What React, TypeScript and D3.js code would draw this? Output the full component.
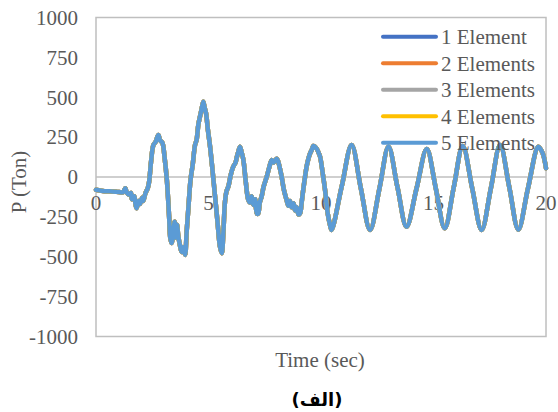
import React from "react";
import * as d3 from "d3";

const timeSec: number[] = [
  0, 0.3, 0.6, 0.9, 1.2, 1.3, 1.36, 1.45, 1.55, 1.6, 1.7, 1.75, 1.8, 1.9, 1.95, 2.05, 2.1, 2.2, 2.3, 2.36, 2.45,
  2.55, 2.65, 2.77, 2.85, 2.95, 3.05, 3.15, 3.25, 3.3, 3.36, 3.45, 3.5, 3.55, 3.6, 3.66, 3.72, 3.8, 3.88, 3.96,
  4.03, 4.1, 4.2, 4.3, 4.4, 4.47, 4.55, 4.62, 4.7, 4.77, 4.82, 4.89, 4.97, 5.07, 5.18, 5.29, 5.4, 5.51, 5.59,
  5.66, 5.73, 5.8, 5.88, 6.0, 6.1, 6.2, 6.25, 6.33, 6.4, 6.48, 6.55, 6.65, 6.77, 6.85, 6.92, 6.99, 7.07, 7.15,
  7.21, 7.28, 7.36, 7.45, 7.59, 7.7, 7.81, 7.88, 7.96, 8.03, 8.1, 8.18, 8.25, 8.35, 8.47, 8.55, 8.62, 8.7, 8.78,
  8.85, 8.92, 9.0, 9.07, 9.14, 9.21, 9.3, 9.36, 9.45, 9.52, 9.59, 9.66, 9.73, 9.82, 9.9, 9.96, 10.07, 10.18,
  10.3, 10.4, 10.47, 10.92, 11.36, 11.77, 12.18, 12.6, 13.0, 13.4, 13.8, 14.25, 14.7, 15.1, 15.5, 15.9, 16.3,
  16.72, 17.14, 17.55, 17.96, 18.37, 18.77, 19.2, 19.66, 19.85, 20.0,
];

const loadTon: number[] = [
  -80, -88, -90, -92, -95, -70, -95, -110, -100, -140, -120, -165, -196, -150, -170, -130, -150, -100, -70, -30, 100,
  200, 220, 263, 230, 215, 120, -20, -250, -380, -414, -330, -280, -380, -300, -374, -420, -470, -440, -489,
  -340, -207, -20, 80, 200, 232, 330, 378, 430, 472, 440, 400, 300, 190, 40, -120, -280, -437, -478,
  -350, -160, -90, -61, 20, 65, 90, 120, 160, 190, 150, 107, -20, -144, -160, -120, -175, -140, -230,
  -228, -160, -123, -60, 2, 60, 107, 90, 100, 115, 96, 50, 2, -80, -144, -180, -150, -190, -165,
  -210, -190, -235, -228, -160, -81, 10, 65, 120, 150, 170, 195, 190, 175, 150, 127, 30, -81,
  -230, -300, -332, -60, 200, -70, -332, -70, 190, -65, -312, -70, 175, -70, -322, -65, 195,
  -70, -332, -70, 200, -65, -330, -70, 190, 150, 55,
];

const seriesNames: string[] = ["1 Element", "2 Elements", "3 Elements", "4 Elements", "5 Elements"];
const seriesColors: string[] = ["#4472C4", "#ED7D31", "#A5A5A5", "#FFC000", "#5B9BD5"];
const yTicks: number[] = [1000, 750, 500, 250, 0, -250, -500, -750, -1000];
const xTicks: number[] = [0, 5, 10, 15, 20];

const W = 558;
const H = 412;
const plot = { left: 96, right: 546, top: 17.5, bottom: 336.5 };
const SERIF = '"Liberation Serif", "Times New Roman", "DejaVu Serif", serif';
const TEXT = "#595959";
const GRID = "#BFBFBF";
const txt = { fontFamily: SERIF, fontSize: "21px" };

export default function App() {
  const x = d3.scaleLinear().domain([0, 20]).range([plot.left, plot.right]);
  const y = d3.scaleLinear().domain([-1000, 1000]).range([plot.bottom, plot.top]);
  const pts: [number, number][] = timeSec.map((t, i) => [t, loadTon[i]]);
  const line = d3
    .line<[number, number]>()
    .x((d) => x(d[0]))
    .y((d) => y(d[1]))
    .curve(d3.curveCatmullRom.alpha(0.5));
  const path = line(pts) || "";
  const y0 = y(0);

  return (
    <svg width={W} height={H} style={{ position: "absolute", left: 0, top: 0, background: "#fff" }}>
      <rect x={0} y={0} width={W} height={H} fill="#fff" />
      <rect
        x={plot.left}
        y={plot.top}
        width={plot.right - plot.left}
        height={plot.bottom - plot.top}
        fill="none"
        stroke={GRID}
        strokeWidth={1.5}
      />
      <line x1={plot.left} x2={plot.right} y1={y0} y2={y0} stroke={GRID} strokeWidth={1.5} />
      {yTicks.map((v) => (
        <text key={v} x={78} y={y(v)} dy="0.35em" textAnchor="end" style={txt} fill={TEXT}>
          {v}
        </text>
      ))}
      {xTicks.map((v) => (
        <text key={v} x={x(v)} y={y0 + 33} textAnchor="middle" style={txt} fill={TEXT}>
          {v}
        </text>
      ))}
      {seriesNames.map((n, i) => (
        <path
          key={n}
          d={path}
          fill="none"
          stroke={seriesColors[i]}
          strokeWidth={4.5}
          strokeLinejoin="round"
          strokeLinecap="round"
        />
      ))}
      {seriesNames.map((n, i) => {
        const ry = 36.7 + i * 26.5;
        return (
          <g key={n}>
            <line x1={383} x2={436} y1={ry} y2={ry} stroke={seriesColors[i]} strokeWidth={4} strokeLinecap="round" />
            <text x={441} y={ry} dy="0.35em" style={txt} fill={TEXT}>
              {n}
            </text>
          </g>
        );
      })}
      <text transform="translate(26,182) rotate(-90)" textAnchor="middle" style={txt} fill={TEXT}>
        P (Ton)
      </text>
      <text x={320} y={367} textAnchor="middle" style={txt} fill={TEXT}>
        Time (sec)
      </text>
      <text
        x={317}
        y={406}
        textAnchor="middle"
        style={{ fontFamily: '"DejaVu Sans", sans-serif', fontSize: "18px", fontWeight: "bold" }}
        fill="#000"
      >
        (الف)
      </text>
    </svg>
  );
}
